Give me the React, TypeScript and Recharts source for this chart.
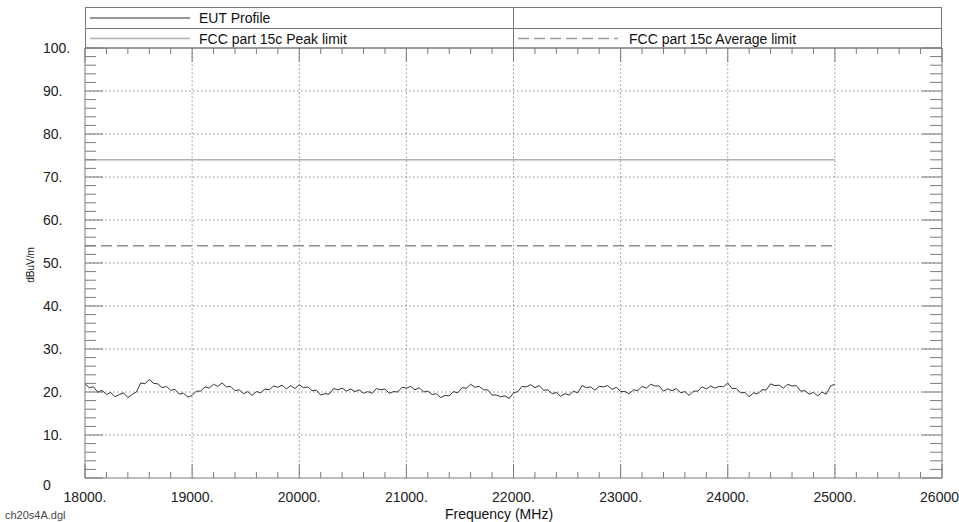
import { Customized, Line, LineChart, ReferenceLine, XAxis, YAxis } from "recharts";

// EUT sweep, 18000..25000 MHz in 40 MHz steps (dBuV/m)
const eutStartMHz = 18000;
const eutStepMHz = 40;
const eutLevels = [
  21.9, 21.0, 21.2, 19.9, 20.4, 19.4, 19.9, 18.9, 19.4, 19.8, 18.7, 19.4, 20.0, 22.1, 21.9, 22.9, 22.0, 21.9, 21.0, 21.3, 20.4, 20.6, 19.5, 19.7, 18.8,
  19.2, 20.2, 20.2, 21.2, 20.9, 21.8, 21.3, 22.1, 21.2, 21.3, 20.3, 20.5, 19.6, 20.1, 19.2, 20.1, 19.8, 20.7, 20.5, 21.4, 21.1, 21.6, 20.7, 21.5, 20.8,
  21.7, 21.0, 21.2, 20.3, 20.4, 19.3, 19.6, 19.5, 20.8, 20.5, 20.9, 20.2, 20.7, 20.1, 20.5, 19.7, 20.1, 19.7, 20.8, 20.5, 20.7, 19.7, 20.1, 20.0, 21.1,
  20.9, 21.3, 20.5, 21.0, 20.0, 20.2, 19.4, 19.6, 18.7, 19.2, 19.1, 20.1, 19.8, 21.0, 20.9, 21.8, 21.1, 21.3, 20.5, 20.5, 19.3, 19.3, 18.9, 19.1, 18.5,
  19.8, 20.1, 21.3, 21.2, 21.7, 21.0, 21.5, 20.4, 20.5, 19.6, 19.9, 19.0, 19.6, 19.3, 20.2, 19.8, 21.5, 21.0, 21.2, 20.4, 21.3, 21.2, 21.5, 20.6, 21.1,
  20.1, 20.1, 19.6, 20.5, 20.3, 21.3, 20.9, 21.8, 21.4, 21.4, 20.2, 20.7, 20.3, 20.8, 19.8, 20.1, 19.2, 20.2, 20.2, 21.2, 20.7, 21.4, 20.9, 21.3, 21.2,
  22.1, 20.8, 20.8, 19.8, 19.9, 18.9, 19.8, 19.6, 20.5, 20.5, 21.9, 21.5, 21.6, 20.9, 21.8, 21.4, 21.5, 20.2, 20.3, 19.5, 19.9, 19.1, 20.0, 19.5, 21.4,
  21.8,
];

const limitFreqs = [18000, 25000];
const peakLimit = [74, 74];
const averageLimit = [54, 54];

const xMajorTicks = [18000, 19000, 20000, 21000, 22000, 23000, 24000, 25000, 26000];
const xTickLabels = ["18000.", "19000.", "20000.", "21000.", "22000.", "23000.", "24000.", "25000.", "26000"];
const yMajorTicks = [0, 10, 20, 30, 40, 50, 60, 70, 80, 90, 100];
const yTickLabels = ["0", "10.", "20.", "30.", "40.", "50.", "60.", "70.", "80.", "90.", "100."];

const eutData = eutLevels.map((level, i) => ({ freq: eutStartMHz + i * eutStepMHz, level }));
const peakData = limitFreqs.map((freq, i) => ({ freq, level: peakLimit[i] }));
const avgData = limitFreqs.map((freq, i) => ({ freq, level: averageLimit[i] }));

const xMinorTicks: number[] = [];
for (let f = 18000; f <= 26000; f += 200) xMinorTicks.push(f);
const yMinorTicks: number[] = [];
for (let v = 0; v <= 100; v += 2) yMinorTicks.push(v);

const FONT = "'Liberation Sans', Arial, sans-serif";
const FRAME = "#7a7a7a";
const GRID = "#8c8c8c";

const BottomTick = (props: any) => {
  const { x, y, payload } = props;
  const idx = xMajorTicks.indexOf(payload.value);
  const major = idx >= 0;
  const last = idx === xMajorTicks.length - 1;
  return (
    <g>
      <line x1={x} x2={x} y1={y} y2={y - (major ? 14 : 6)} stroke={FRAME} />
      {major && (
        <text x={last ? x + 17 : x} y={y + 24} textAnchor={last ? "end" : "middle"} fontSize={14} fontFamily={FONT} fill="#222">
          {xTickLabels[idx]}
        </text>
      )}
    </g>
  );
};

const TopTick = (props: any) => {
  const { x, y, payload } = props;
  const major = xMajorTicks.includes(payload.value);
  return <line x1={x} x2={x} y1={y} y2={y + (major ? 14 : 6)} stroke={FRAME} />;
};

const LeftTick = (props: any) => {
  const { x, y, payload } = props;
  const idx = yMajorTicks.indexOf(payload.value);
  const major = idx >= 0;
  return (
    <g>
      <line x1={x} x2={x + (major ? 18 : 11)} y1={y} y2={y} stroke={FRAME} />
      {major && (
        <text x={x - 42} y={payload.value === 0 ? y + 12 : y + 5} textAnchor="start" fontSize={14} fontFamily={FONT} fill="#222">
          {yTickLabels[idx]}
        </text>
      )}
    </g>
  );
};

const RightTick = (props: any) => {
  const { x, y, payload } = props;
  const major = yMajorTicks.includes(payload.value);
  return <line x1={x} x2={x - (major ? 20 : 12)} y1={y} y2={y} stroke={FRAME} />;
};

function LegendBox() {
  return (
    <g fontFamily={FONT} fontSize={14} fill="#111">
      <line x1={85} x2={942} y1={7.5} y2={7.5} stroke={FRAME} />
      <line x1={85} x2={942} y1={28.5} y2={28.5} stroke={FRAME} />
      <line x1={85} x2={942} y1={48} y2={48} stroke={FRAME} />
      <line x1={85.5} x2={85.5} y1={7} y2={48} stroke={FRAME} />
      <line x1={941.5} x2={941.5} y1={7} y2={48} stroke={FRAME} />
      <line x1={513.5} x2={513.5} y1={7} y2={48} stroke={FRAME} />
      <line x1={90} x2={190} y1={18} y2={18} stroke="#333" strokeWidth={1.2} />
      <text x={199} y={23}>EUT Profile</text>
      <line x1={90} x2={190} y1={38.5} y2={38.5} stroke="#b0b0b0" strokeWidth={1.6} />
      <text x={199} y={43.5}>FCC part 15c Peak limit</text>
      <line x1={518} x2={618} y1={38.5} y2={38.5} stroke="#9a9a9a" strokeWidth={1.6} strokeDasharray="11 5" />
      <text x={629} y={43.5}>FCC part 15c Average limit</text>
      <text x={5} y={519} fontSize={11} fill="#444">ch20s4A.dgl</text>
      <text x={499} y={519} textAnchor="middle">Frequency (MHz)</text>
      <text x={34} y={265} fontSize={10} textAnchor="middle" transform="rotate(-90 34 265)">dBuV/m</text>
    </g>
  );
}

export default function App() {
  return (
    <div style={{ position: "absolute", left: 0, top: 0, width: 959, height: 522, background: "#fff" }}>
      <LineChart width={959} height={522} margin={{ top: 47, right: 16, bottom: 0, left: 0 }}>
        <XAxis
          xAxisId="bottom"
          dataKey="freq"
          type="number"
          domain={[18000, 26000]}
          ticks={xMinorTicks}
          interval={0}
          allowDataOverflow
          height={44}
          tickSize={0}
          tickMargin={0}
          tickLine={false}
          stroke={FRAME}
          tick={<BottomTick />}
        />
        <XAxis
          xAxisId="top"
          orientation="top"
          dataKey="freq"
          type="number"
          domain={[18000, 26000]}
          ticks={xMinorTicks}
          interval={0}
          allowDataOverflow
          height={1}
          tickSize={0}
          tickMargin={0}
          tickLine={false}
          stroke={FRAME}
          tick={<TopTick />}
        />
        <YAxis
          yAxisId="left"
          type="number"
          domain={[0, 100]}
          ticks={yMinorTicks}
          interval={0}
          allowDataOverflow
          width={85}
          tickSize={0}
          tickMargin={0}
          tickLine={false}
          stroke={FRAME}
          tick={<LeftTick />}
        />
        <YAxis
          yAxisId="right"
          orientation="right"
          type="number"
          domain={[0, 100]}
          ticks={yMinorTicks}
          interval={0}
          allowDataOverflow
          width={1}
          tickSize={0}
          tickMargin={0}
          tickLine={false}
          stroke={FRAME}
          tick={<RightTick />}
        />
        {xMajorTicks.slice(1, -1).map((v) => (
          <ReferenceLine key={`gx${v}`} x={v} xAxisId="bottom" yAxisId="left" stroke={GRID} strokeDasharray="1.5 2.5" />
        ))}
        {yMajorTicks.slice(1, -1).map((v) => (
          <ReferenceLine key={`gy${v}`} y={v} xAxisId="bottom" yAxisId="left" stroke={GRID} strokeDasharray="1.5 2.5" />
        ))}
        <Line
          data={peakData}
          dataKey="level"
          xAxisId="top"
          yAxisId="right"
          type="linear"
          stroke="#b0b0b0"
          strokeWidth={1.6}
          dot={false}
          isAnimationActive={false}
        />
        <Line
          data={avgData}
          dataKey="level"
          xAxisId="bottom"
          yAxisId="left"
          type="linear"
          stroke="#8e8e8e"
          strokeWidth={1.6}
          strokeDasharray="11 5"
          dot={false}
          isAnimationActive={false}
        />
        <Line
          data={eutData}
          dataKey="level"
          xAxisId="bottom"
          yAxisId="left"
          type="linear"
          stroke="#333"
          strokeWidth={1}
          dot={false}
          isAnimationActive={false}
        />
        <Customized component={LegendBox} />
      </LineChart>
    </div>
  );
}
